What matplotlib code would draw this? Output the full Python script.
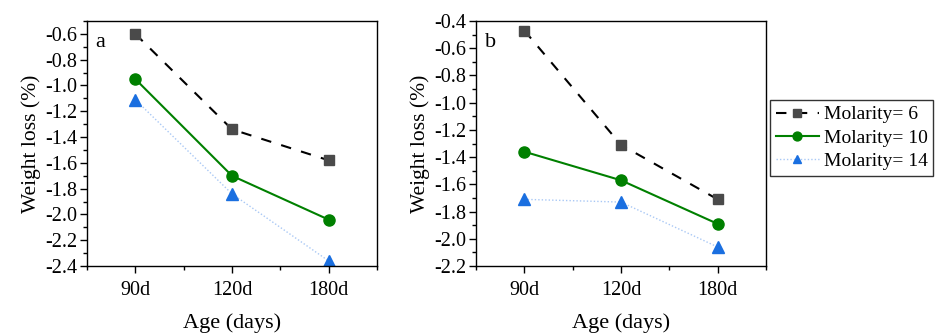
import matplotlib
matplotlib.use("Agg")
import matplotlib.pyplot as plt
from matplotlib.ticker import MultipleLocator
import numpy as np

plt.rcParams['font.family'] = ['Liberation Serif', 'DejaVu Serif']

ages = ["90d", "120d", "180d"]
series_names = ["Molarity= 6", "Molarity= 10", "Molarity= 14"]

# weight loss (%) per panel, one list per molarity
loss_a_m6 = [-0.60, -1.34, -1.58]
loss_a_m10 = [-0.95, -1.70, -2.04]
loss_a_m14 = [-1.11, -1.84, -2.36]

loss_b_m6 = [-0.47, -1.31, -1.71]
loss_b_m10 = [-1.36, -1.57, -1.89]
loss_b_m14 = [-1.71, -1.73, -2.06]

styles = [
    dict(color="black", ls=(0, (5, 5)), lw=1.5, marker="s", ms=7,
         mfc="#4a4a4a", mec="#4a4a4a"),
    dict(color="#008000", ls="-", lw=1.5, marker="o", ms=8,
         mfc="#008000", mec="#008000"),
    dict(color="#a9c8f5", ls=(0, (1, 1.5)), lw=1.0, marker="^", ms=8,
         mfc="#1a6fe0", mec="#1a6fe0"),
]

fig = plt.figure(figsize=(9.37, 3.33), dpi=100)


def draw_panel(rect, data, ylim, tag):
    ax = fig.add_axes(rect)
    x = np.arange(len(ages))
    handles = []
    for vals, st, name in zip(data, styles, series_names):
        h, = ax.plot(x, vals, label=name, **st)
        handles.append(h)
    ax.set_xlim(-0.5, 2.5)
    ax.set_ylim(*ylim)
    ax.set_xticks(x)
    ax.set_xticklabels(ages)
    ax.xaxis.set_minor_locator(MultipleLocator(0.5))
    ax.yaxis.set_major_locator(MultipleLocator(0.2))
    ax.yaxis.set_minor_locator(MultipleLocator(0.1))
    ax.yaxis.set_major_formatter(plt.FuncFormatter(lambda v, p: "%.1f" % v))
    ax.tick_params(which="both", direction="out", labelsize=14.5, width=1)
    ax.tick_params(which="major", length=5)
    ax.tick_params(which="minor", length=3)
    ax.tick_params(axis="x", pad=6)
    ax.tick_params(axis="y", pad=2)
    for sp in ax.spines.values():
        sp.set_linewidth(1)
    ax.set_xlabel("Age (days)", fontsize=16, labelpad=9)
    ax.set_ylabel("Weight loss (%)", fontsize=15.5, labelpad=3)
    ax.text(0.03, 0.95, tag, transform=ax.transAxes, fontsize=16,
            va="top", ha="left")
    return ax, handles


ax_a, handles = draw_panel([0.0928, 0.201, 0.3095, 0.736],
                           [loss_a_m6, loss_a_m10, loss_a_m14], (-2.4, -0.5), "a")
ax_b, _ = draw_panel([0.508, 0.201, 0.3095, 0.736],
                     [loss_b_m6, loss_b_m10, loss_b_m14], (-2.2, -0.4), "b")

leg = fig.legend(handles=handles, loc="upper left", bbox_to_anchor=(0.822, 0.70),
                 frameon=True, fancybox=False, edgecolor="black", fontsize=14,
                 handlelength=2.2, handletextpad=0.25, borderpad=0.3,
                 labelspacing=0.3, borderaxespad=0, markerscale=0.8)
leg.get_frame().set_linewidth(1)

fig.savefig("out.png", dpi=100)
